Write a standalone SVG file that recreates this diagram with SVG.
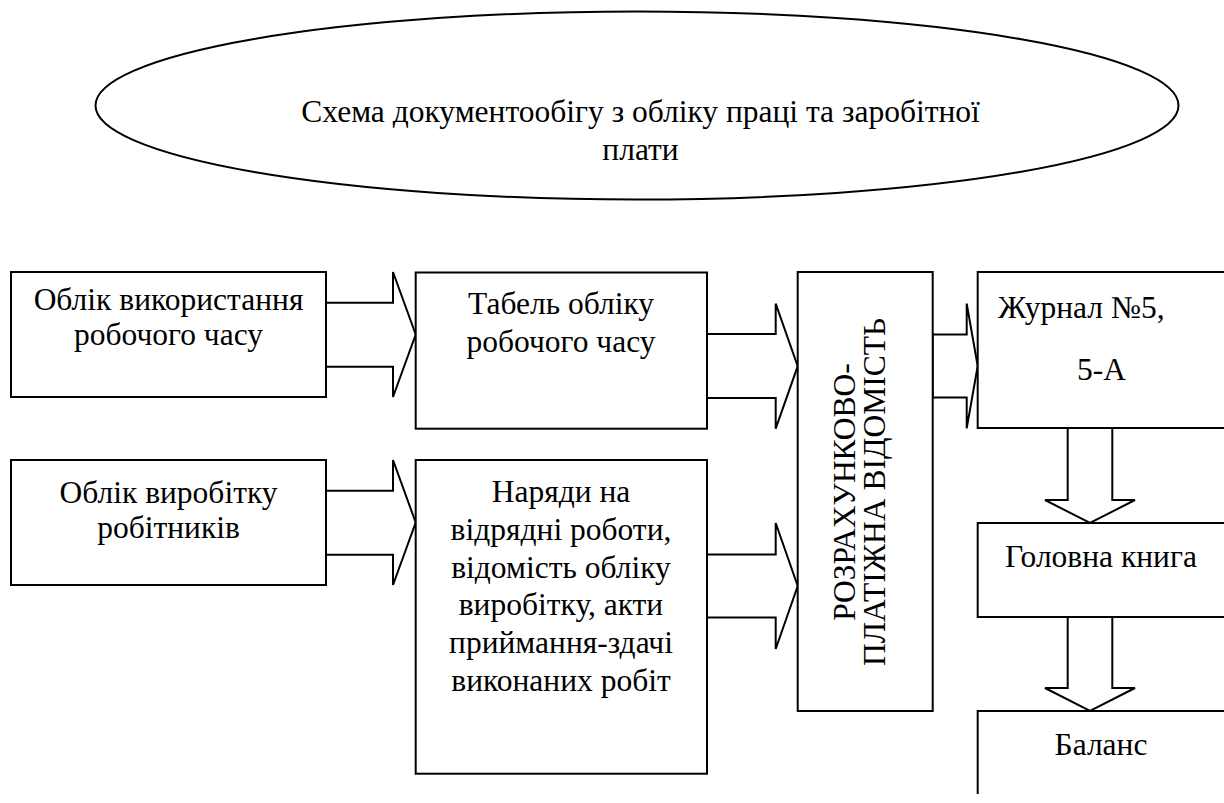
<svg xmlns="http://www.w3.org/2000/svg" width="1224" height="803" viewBox="0 0 1224 803">
<style>
.box{fill:#fff;stroke:#000;stroke-width:2}
.arr{fill:#fff;stroke:#000;stroke-width:2;stroke-linejoin:miter}
.t{font-family:"Liberation Serif","Times New Roman",serif;font-size:31.5px;fill:#000}
.c{text-anchor:middle}
</style>
<rect width="1224" height="803" fill="#fff"/>
<g id="title">
<ellipse cx="637" cy="105.5" rx="541.5" ry="94" fill="#fff" stroke="#000" stroke-width="2"/>
<text class="t c" x="640.5" y="122">Схема документообігу з обліку праці та заробітної</text>
<text class="t c" x="640.5" y="160">плати</text>
</g>
<g id="connectors">
<polygon class="arr" points="326,302.7 393,302.7 393,272 415.7,334.5 393,397 393,366.7 326,366.7"/>
<polygon class="arr" points="326,490.7 393,490.7 393,460 415.7,522.5 393,585 393,554.7 326,554.7"/>
<polygon class="arr" points="707,334 775.7,334 775.7,303.7 797.7,366.2 775.7,428.7 775.7,398 707,398"/>
<polygon class="arr" points="707,554.5 775.7,554.5 775.7,523 797.7,586 775.7,649 775.7,617.5 707,617.5"/>
<polygon class="arr" points="932.7,334.6 966.7,334.6 966.7,303.6 977.7,366 966.7,428.4 966.7,397.4 932.7,397.4"/>
<polygon class="arr" points="1067.7,428 1067.7,500 1045,500 1090,523 1135,500 1112.3,500 1112.3,428"/>
<polygon class="arr" points="1067.7,617 1067.7,688 1045,688 1090,711 1135,688 1112.3,688 1112.3,617"/>
</g>
<g id="n-oblik-chasu">
<rect class="box" x="11" y="272" width="315" height="125"/>
<text class="t c" x="168.5" y="310">Облік використання</text>
<text class="t c" x="168.5" y="345">робочого часу</text>
</g>
<g id="n-oblik-vyrobitku">
<rect class="box" x="11" y="460" width="315" height="125"/>
<text class="t c" x="168.5" y="503">Облік виробітку</text>
<text class="t c" x="168.5" y="538">робітників</text>
</g>
<g id="n-tabel">
<rect class="box" x="415.7" y="272.5" width="291.3" height="156.2"/>
<text class="t c" x="561" y="314">Табель обліку</text>
<text class="t c" x="561" y="352">робочого часу</text>
</g>
<g id="n-naryady">
<rect class="box" x="415.7" y="460" width="291.3" height="313.7"/>
<text class="t c" x="561" y="501.7">Наряди на</text>
<text class="t c" x="561" y="539.6">відрядні роботи,</text>
<text class="t c" x="561" y="577.5">відомість обліку</text>
<text class="t c" x="561" y="615.4">виробітку, акти</text>
<text class="t c" x="561" y="653.3">приймання-здачі</text>
<text class="t c" x="561" y="691.2">виконаних робіт</text>
</g>
<g id="n-vidomist">
<rect class="box" x="797.7" y="272" width="135" height="439"/>
<text class="t c" transform="translate(870,492) rotate(-90)"><tspan x="0" y="-15">РОЗРАХУНКОВО-</tspan><tspan x="0" y="15">ПЛАТІЖНА ВІДОМІСТЬ</tspan></text>
</g>
<g id="n-zhurnal">
<rect class="box" x="977.7" y="272" width="270" height="156"/>
<text class="t" x="998" y="318">Журнал №5,</text>
<text class="t" x="1077" y="380">5-А</text>
</g>
<g id="n-holovna">
<rect class="box" x="977.7" y="523" width="270" height="94"/>
<text class="t c" x="1101" y="567">Головна книга</text>
</g>
<g id="n-balans">
<path class="box" d="M1250,711 H977.7 V794" fill="none"/>
<text class="t c" x="1101" y="755">Баланс</text>
</g>
</svg>
